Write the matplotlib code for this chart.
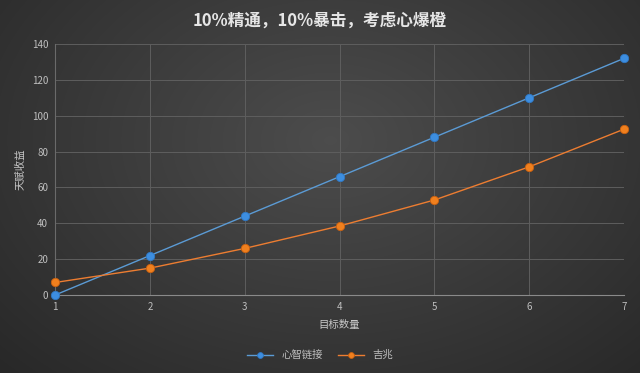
import numpy as np
import matplotlib.pyplot as plt

plt.rcParams['font.family'] = ['Noto Sans CJK SC', 'DejaVu Sans']

# data
targets = [1, 2, 3, 4, 5, 6, 7]
xinzhi = [0, 22, 44, 66, 88, 110, 132]
jizhao = [7, 15, 26, 38.5, 53, 71.5, 92.5]
labels = ['心智链接', '吉兆']
title = '10%精通，10%暴击，考虑心爆橙'

fig = plt.figure(figsize=(6.4, 3.73), dpi=100)

# radial dark gradient background
bg = fig.add_axes([0, 0, 1, 1], zorder=-10)
yy, xx = np.mgrid[0:373, 0:640]
r = np.sqrt(((xx - 330) / 420.0) ** 2 + ((yy - 140) / 300.0) ** 2)
shade = np.clip(0.30 - 0.13 * r, 0.14, 0.30)
bg.imshow(np.dstack([shade] * 3), aspect='auto', extent=[0, 1, 0, 1])
bg.set_axis_off()

ax = fig.add_axes([0.086, 0.209, 0.889, 0.673])
ax.patch.set_alpha(0)

ax.plot(targets, xinzhi, color='#5b9bd5', lw=1.0, marker='o', ms=6,
        mfc='#3d8ee0', mec='#2f78c4', mew=0.6, label=labels[0], clip_on=False, zorder=3)
ax.plot(targets, jizhao, color='#ed7d31', lw=1.0, marker='o', ms=6,
        mfc='#f0801e', mec='#c9600f', mew=0.6, label=labels[1], clip_on=False, zorder=3)

ax.set_xlim(1, 7)
ax.set_ylim(0, 140)
ax.set_xticks(targets)
ax.set_yticks(range(0, 141, 20))
ax.grid(True, color='#5e5e5e', lw=0.7)
ax.set_axisbelow(True)
for s in ['top', 'right']:
    ax.spines[s].set_visible(False)
ax.spines['left'].set_color('#6a6a6a')
ax.spines['bottom'].set_color('#8a8a8a')
ax.tick_params(colors='#bfbfbf', labelsize=7, length=0, pad=5)

ax.set_xlabel('目标数量', color='#c8c8c8', fontsize=7.5, labelpad=6)
ax.set_ylabel('天赋收益', color='#c8c8c8', fontsize=7.5, labelpad=4)

fig.text(0.5, 0.945, title, ha='center', va='center', color='#e6e6e6',
         fontsize=12, fontweight='bold')

leg = fig.legend(loc='center', bbox_to_anchor=(0.5, 0.048), ncol=2, frameon=False,
                 fontsize=7.5, handlelength=2.5, columnspacing=1.5, markerscale=0.7)
for t in leg.get_texts():
    t.set_color('#bfbfbf')

fig.savefig('out.png', dpi=100)
